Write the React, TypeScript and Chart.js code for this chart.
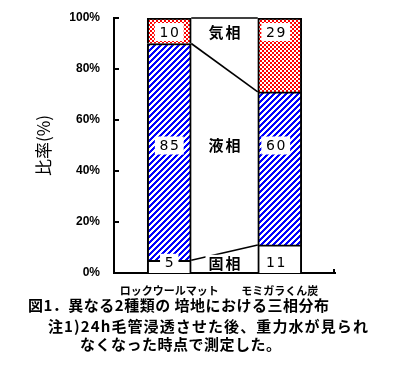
import React, { useEffect, useRef } from "react";
import { Chart, registerables } from "chart.js";

Chart.register(...registerables);

const categories = ["ロックウールマット", "モミガラくん炭"];
const solidPhase = [5, 11];
const liquidPhase = [85, 60];
const gasPhase = [10, 29];
const phaseNames = ["固相", "液相", "気相"];
const yTickStep = 20;
const yTickSuffix = "%";
const yTitle = "比率(%)";
const captionLines = [
  "図1．異なる2種類の 培地における三相分布",
  "注1)24h毛管浸透させた後、重力水が見られ",
  "なくなった時点で測定した。",
];

const JP = "'Noto Sans CJK JP', 'Noto Sans', sans-serif";

function makeStripePattern(): CanvasPattern | string {
  const c = document.createElement("canvas");
  c.width = 6;
  c.height = 6;
  const ctx = c.getContext("2d");
  if (!ctx) return "#0000ff";
  ctx.fillStyle = "#ffffff";
  ctx.fillRect(0, 0, 6, 6);
  ctx.fillStyle = "#0000ff";
  for (let x = 0; x < 6; x++)
    for (let y = 0; y < 6; y++) if ((x + y) % 6 < 3) ctx.fillRect(x, y, 1, 1);
  return ctx.createPattern(c, "repeat") || "#0000ff";
}

function makeCheckPattern(): CanvasPattern | string {
  const c = document.createElement("canvas");
  c.width = 4;
  c.height = 4;
  const ctx = c.getContext("2d");
  if (!ctx) return "#ff0000";
  ctx.fillStyle = "#ffffff";
  ctx.fillRect(0, 0, 4, 4);
  ctx.fillStyle = "#ff0000";
  ctx.fillRect(0, 0, 2, 2);
  ctx.fillRect(2, 2, 2, 2);
  return ctx.createPattern(c, "repeat") || "#ff0000";
}

// label rows (positions on the % axis) and per-bar label x offsets
const labelRows = [4, 50, 94.5];
const labelXShift = [0, -4];

const annotate = {
  id: "annotate",
  afterDatasetsDraw(chart: any) {
    const ctx: CanvasRenderingContext2D = chart.ctx;
    const y = chart.scales.y;
    const x = chart.scales.x;
    const metas = [0, 1, 2].map((i) => chart.getDatasetMeta(i));
    ctx.save();
    // series lines between the bars
    ctx.strokeStyle = "#000";
    ctx.lineWidth = 1.6;
    metas.forEach((m: any) => {
      const a = m.data[0];
      const b = m.data[1];
      ctx.beginPath();
      ctx.moveTo(a.x + a.width / 2, a.y);
      ctx.lineTo(b.x - b.width / 2, b.y);
      ctx.stroke();
    });
    // inward y ticks
    ctx.lineWidth = 2;
    y.ticks.forEach((t: any) => {
      const py = Math.round(y.getPixelForValue(t.value));
      ctx.beginPath();
      ctx.moveTo(chart.chartArea.left, py);
      ctx.lineTo(chart.chartArea.left + 5, py);
      ctx.stroke();
    });
    // x axis end tick
    ctx.beginPath();
    ctx.moveTo(x.right - 1, chart.chartArea.bottom);
    ctx.lineTo(x.right - 1, chart.chartArea.bottom - 4);
    ctx.stroke();

    const rowsData = [solidPhase, liquidPhase, gasPhase];
    // value labels on white boxes
    ctx.textAlign = "center";
    ctx.textBaseline = "middle";
    ctx.font = "14px 'DejaVu Sans', sans-serif";
    (ctx as any).letterSpacing = "1.5px";
    rowsData.forEach((vals, r) => {
      const py = y.getPixelForValue(labelRows[r]);
      vals.forEach((v, j) => {
        const el = metas[r].data[j];
        const px = el.x + labelXShift[j];
        const txt = String(v);
        const w = ctx.measureText(txt).width;
        ctx.fillStyle = "#fff";
        ctx.fillRect(px - w / 2 - 4, py - 9, w + 8, 18);
        ctx.fillStyle = "#000";
        ctx.fillText(txt, px + 0.75, py + 1);
      });
    });
    // phase names between the bars
    ctx.font = "bold 15px " + JP;
    (ctx as any).letterSpacing = "2px";
    const a = metas[0].data[0];
    const b = metas[0].data[1];
    const mid = (a.x + a.width / 2 + b.x - b.width / 2) / 2;
    phaseNames.forEach((name, r) => {
      const py = y.getPixelForValue(labelRows[r]);
      const w = ctx.measureText(name).width;
      ctx.fillStyle = "#fff";
      ctx.fillRect(mid - w / 2 - 2, py - 8, w + 4, 16);
      ctx.fillStyle = "#000";
      ctx.fillText(name, mid + 1, py);
    });
    ctx.restore();
  },
};

export default function App() {
  const ref = useRef<HTMLCanvasElement | null>(null);
  useEffect(() => {
    if (!ref.current) return;
    const stripe = makeStripePattern();
    const check = makeCheckPattern();
    const common = {
      borderColor: "#000",
      borderWidth: 2,
      barThickness: 44,
      stack: "s",
    };
    const chart = new Chart(ref.current, {
      type: "bar",
      data: {
        labels: categories,
        datasets: [
          { label: phaseNames[0], data: solidPhase, backgroundColor: "#ffffff", ...common },
          { label: phaseNames[1], data: liquidPhase, backgroundColor: stripe as any, ...common },
          { label: phaseNames[2], data: gasPhase, backgroundColor: check as any, ...common },
        ],
      },
      options: {
        animation: false,
        responsive: false,
        layout: { padding: { left: 0, right: 66, top: 18, bottom: 0 } },
        plugins: { legend: { display: false }, tooltip: { enabled: false } },
        scales: {
          x: {
            stacked: true,
            grid: { display: false, drawTicks: false },
            border: { color: "#000", width: 2 },
            ticks: {
              color: "#000",
              padding: 11,
              font: { family: JP, size: 11, weight: "bold" },
            },
            afterFit: (s: any) => {
              s.height = 98;
              s.paddingLeft = 0;
              s.paddingRight = 0;
            },
          },
          y: {
            stacked: true,
            min: 0,
            max: 100,
            grid: { display: false, drawTicks: false },
            border: { color: "#000", width: 2 },
            ticks: {
              stepSize: yTickStep,
              color: "#000",
              padding: 14,
              font: { family: "'Liberation Sans', Arial, sans-serif", size: 12, weight: "bold" },
              callback: (v: any) => v + yTickSuffix,
            },
            title: {
              display: true,
              text: yTitle,
              color: "#000",
              font: { family: JP, size: 17 },
              padding: { top: 33, bottom: 0 },
            },
            afterFit: (s: any) => {
              s.width = 114;
              s.paddingTop = 0;
              s.paddingBottom = 0;
            },
          },
        },
      },
      plugins: [annotate],
    });
    return () => chart.destroy();
  }, []);

  const capStyle = (left: number, top: number, ls: number): React.CSSProperties => ({
    position: "absolute",
    left,
    top,
    whiteSpace: "pre",
    font: "bold 15px " + JP,
    lineHeight: "18px",
    letterSpacing: ls + "px",
    color: "#000",
  });

  return (
    <div style={{ position: "fixed", left: 0, top: 0, width: 401, height: 371, background: "#fff" }}>
      <canvas ref={ref} width={401} height={371} style={{ position: "absolute", left: 0, top: 0 }} />
      <div style={capStyle(28, 296, 0.5)}>{captionLines[0]}</div>
      <div style={capStyle(48, 317, 1.1)}>{captionLines[1]}</div>
      <div style={capStyle(80, 335, 0.5)}>{captionLines[2]}</div>
    </div>
  );
}
